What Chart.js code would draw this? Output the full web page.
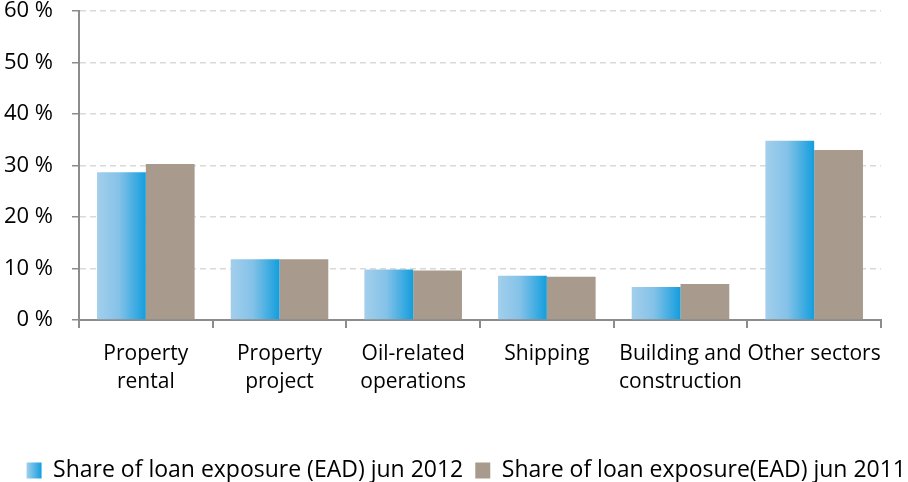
<!DOCTYPE html>
<html>
<head>
<meta charset="utf-8">
<script src="https://cdn.jsdelivr.net/npm/chart.js@4"></script>
<style>
  html, body { margin: 0; padding: 0; background: #fff; }
  #wrap { width: 908px; height: 482px; }
</style>
</head>
<body>
<div id="wrap"><canvas id="bar-ead"></canvas></div>
<script>
var sectors = [
  ['Property', 'rental'],
  ['Property', 'project'],
  ['Oil-related', 'operations'],
  'Shipping',
  ['Building and', 'construction'],
  'Other sectors'
];
var share2012 = [28.7, 11.8, 9.8, 8.6, 6.4, 34.8];
var share2011 = [30.3, 11.8, 9.6, 8.4, 7.0, 33.0];
var yTicks = [0, 10, 20, 30, 40, 50, 60];

var catPct = 0.73;
var plotBottom = 320;
var fontName = "'Open Sans', sans-serif";

// horizontal blue gradient across one bar
function blueFill(ctx) {
  var chart = ctx.chart;
  var x = chart.scales && chart.scales.x;
  if (!x || !x.width) return '#5ab3e3';
  var center = x.getPixelForValue(ctx.dataIndex || 0);
  var bw = x.width / sectors.length * catPct / 2;
  var g = chart.ctx.createLinearGradient(center - bw, 0, center, 0);
  g.addColorStop(0, '#a3cfec');
  g.addColorStop(0.45, '#84c2e8');
  g.addColorStop(1, '#139edd');
  return g;
}

// legend swatch gets its own gradient once the legend is laid out
var legendGradient = {
  id: 'legendGradient',
  beforeDraw: function(chart) {
    var lg = chart.legend;
    if (!lg || !lg.legendHitBoxes || !lg.legendHitBoxes.length) return;
    var box = lg.legendHitBoxes[0];
    var g = chart.ctx.createLinearGradient(box.left, 0, box.left + 15, 0);
    g.addColorStop(0, '#a3cfec');
    g.addColorStop(1, '#139edd');
    lg.legendItems[0].fillStyle = g;
  }
};

var barchart = document.getElementById('bar-ead');
var chart = new Chart(barchart, {
  type: 'bar',
  data: {
    labels: sectors,
    datasets: [{
      label: 'Share of loan exposure (EAD) jun 2012',
      data: share2012,
      backgroundColor: blueFill,
      borderWidth: 0
    }, {
      label: 'Share of loan exposure(EAD) jun 2011',
      data: share2011,
      backgroundColor: '#a89b8d',
      borderWidth: 0
    }]
  },
  plugins: [legendGradient],
  options: {
    responsive: true,
    maintainAspectRatio: false,
    animation: false,
    layout: { padding: { left: 0, right: -10, top: 0, bottom: -10 } },
    datasets: { bar: { categoryPercentage: catPct, barPercentage: 1.0 } },
    scales: {
      x: {
        grid: {
          offset: true,
          drawOnChartArea: false,
          color: '#8c8c8c',
          tickColor: '#8c8c8c',
          lineWidth: 2,
          tickLength: 8
        },
        border: { color: '#8c8c8c', width: 2 },
        ticks: {
          color: '#000',
          padding: 12,
          maxRotation: 0,
          autoSkip: false,
          font: { family: fontName, size: 21, lineHeight: 1.33 }
        },
        afterFit: function(axis) {
          var chart = axis.chart;
          var lgH = chart.legend ? chart.legend.height : 45;
          axis.height = chart.height + 10 - lgH - plotBottom;
        }
      },
      y: {
        min: 0,
        max: 60,
        afterBuildTicks: function(axis) {
          axis.ticks = yTicks.map(function(v) { return { value: v }; });
        },
        grid: {
          color: '#d9d9d9',
          tickColor: '#8c8c8c',
          lineWidth: 1.5,
          tickLength: 7
        },
        border: { color: '#8c8c8c', width: 2, dash: [6, 4] },
        ticks: {
          color: '#000',
          padding: 19,
          font: { family: fontName, size: 22 },
          callback: function(v) { return v + ' %'; }
        },
        afterFit: function(axis) {
          axis.width = 79;
          axis.paddingTop = 11;
          axis.paddingBottom = 0;
        }
      },
      // empty right-hand strip so the legend can use the full width
      spacer: {
        position: 'right',
        grid: { display: false },
        border: { display: false },
        ticks: { display: false },
        afterFit: function(axis) { axis.width = 37; }
      }
    },
    plugins: {
      tooltip: { enabled: false },
      legend: {
        position: 'bottom',
        align: 'end',
        labels: {
          color: '#000',
          boxWidth: 15,
          boxHeight: 16,
          padding: 12,
          font: { family: fontName, size: 23 }
        }
      }
    }
  }
});
</script>
</body>
</html>
